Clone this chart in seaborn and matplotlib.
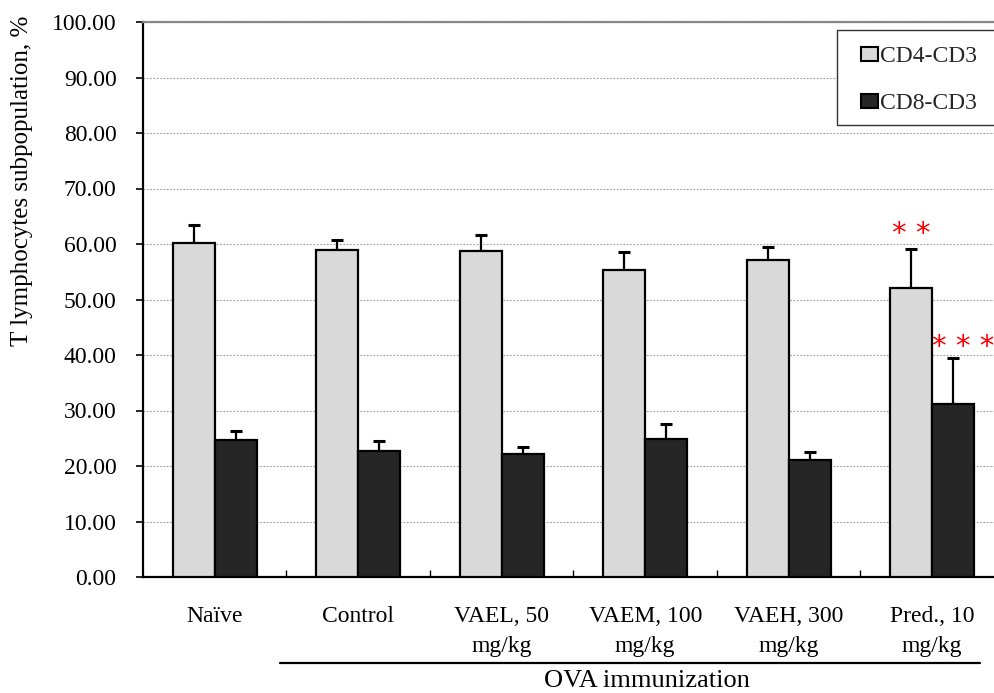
import matplotlib
matplotlib.use("Agg")
import matplotlib.pyplot as plt
from matplotlib.lines import Line2D
from matplotlib.patches import Rectangle
from matplotlib.ticker import FixedLocator
import seaborn as sns
import pandas as pd
import numpy as np

# ---- data ----
categories = ["Naïve", "Control", "VAEL, 50\nmg/kg", "VAEM, 100\nmg/kg",
              "VAEH, 300\nmg/kg", "Pred., 10\nmg/kg"]
series_names = ["CD4-CD3", "CD8-CD3"]
cd4_values = [60.1, 58.9, 58.7, 55.3, 57.1, 52.1]
cd4_errors = [3.4, 1.8, 3.0, 3.3, 2.3, 7.0]
cd8_values = [24.7, 22.7, 22.2, 24.9, 21.1, 31.2]
cd8_errors = [1.6, 1.8, 1.3, 2.7, 1.4, 8.2]
y_ticks = [0, 10, 20, 30, 40, 50, 60, 70, 80, 90, 100]
ylabel = "T lymphocytes subpopulation, %"
group_label = "OVA immunization"
sig_cd4 = ["", "", "", "", "", "* *"]
sig_cd8 = ["", "", "", "", "", "* * *"]

df = pd.DataFrame({
    "group": categories * 2,
    "series": [series_names[0]] * len(categories) + [series_names[1]] * len(categories),
    "value": cd4_values + cd8_values,
})

sns.set_theme(style="white")
plt.rcParams["font.family"] = ["Liberation Serif", "DejaVu Serif"]

W, H = 995, 693
fig = plt.figure(figsize=(W / 100, H / 100), dpi=100)
ax = fig.add_axes([143 / W, 1 - 577 / H, 861 / W, 555 / H])

palette = {"CD4-CD3": "#D9D9D9", "CD8-CD3": "#262626"}
sns.barplot(data=df, x="group", y="value", hue="series", hue_order=series_names,
            order=categories, palette=palette, width=0.585, saturation=1,
            edgecolor="black", linewidth=1.6, errorbar=None, ax=ax, zorder=3)

# error bars (upward only), placed on the library-drawn bars
sig_dx = [0.0, 0.07]
sig_dy = [0.2, -0.5]
for cont, errs, sigs, dx, dy in zip(ax.containers, [cd4_errors, cd8_errors],
                                    [sig_cd4, sig_cd8], sig_dx, sig_dy):
    xs = [p.get_x() + p.get_width() / 2 for p in cont.patches]
    ys = [p.get_height() for p in cont.patches]
    ax.errorbar(xs, ys, yerr=[np.zeros(len(errs)), errs], fmt="none",
                ecolor="black", elinewidth=1.6, capsize=4.5, capthick=2.2, zorder=2)
    for x, y, e, s in zip(xs, ys, errs, sigs):
        if s:
            ax.text(x + dx, y + e + dy, s, color="red", fontsize=21, ha="center",
                    va="bottom", family=["DejaVu Sans"], zorder=5)

ax.set_ylim(0, 100)
ax.set_xlim(-0.5, len(categories) - 0.5)
ax.yaxis.set_major_locator(FixedLocator(y_ticks))
ax.set_yticklabels([f"{v:.2f}" for v in y_ticks])
ax.grid(axis="y", color="#9a9a9a", linestyle=(0, (1.5, 1.5)), linewidth=0.8, zorder=0)
ax.grid(axis="x", visible=False)
ax.set_axisbelow(True)

ax.spines["right"].set_visible(False)
ax.spines["top"].set_color("#888888")
ax.spines["top"].set_linewidth(1.6)
for s in ["left", "bottom"]:
    ax.spines[s].set_color("black")
    ax.spines[s].set_linewidth(1.6)

ax.tick_params(axis="y", which="major", direction="out", length=5, width=1.2,
               color="black", labelsize=17, pad=14, left=True, labelcolor="black")
ax.tick_params(axis="x", which="major", length=0, labelsize=17, pad=21,
               labelcolor="black")
ax.xaxis.set_minor_locator(FixedLocator(np.arange(0.5, len(categories) - 0.5, 1.0)))
ax.tick_params(axis="x", which="minor", direction="in", length=5, width=1.0,
               color="black", bottom=True)
for lab in ax.get_xticklabels():
    lab.set_linespacing(1.55)
    lab.set_verticalalignment("top")
ax.set_xlabel("")
ax.set_ylabel("")

fig.text(22 / W, 1 - 181 / H, ylabel, rotation=90, ha="center", va="center",
         fontsize=18, color="black")

# OVA immunization bracket
ax.add_line(Line2D([(280 - 143) / 861, (980 - 143) / 861], [-0.155, -0.155],
                   transform=ax.transAxes, color="black", linewidth=1.6,
                   clip_on=False))
ax.text((647 - 143) / 861, -0.187, group_label, transform=ax.transAxes,
        ha="center", va="center", fontsize=19, color="black")

# legend (frame drawn separately so that it runs off the right edge)
ax.add_patch(Rectangle(((837 - 143) / 861, (577 - 125) / 555), 0.25, 95 / 555,
                       transform=ax.transAxes, facecolor="white",
                       edgecolor="#333333", linewidth=1.0, clip_on=False,
                       zorder=9))
handles = [plt.Rectangle((0, 0), 1, 1, facecolor=palette[n], edgecolor="black",
                         linewidth=1.5) for n in series_names]
leg = ax.legend(handles, series_names, loc="upper left",
                bbox_to_anchor=((861 - 143) / 861, (577 - 46) / 555),
                borderaxespad=0, borderpad=0, frameon=False,
                fontsize=17, handlelength=0.7, handleheight=0.55,
                handletextpad=0.12, labelspacing=1.12)
leg.set_zorder(10)

fig.savefig("out.png", dpi=100, facecolor="white")
